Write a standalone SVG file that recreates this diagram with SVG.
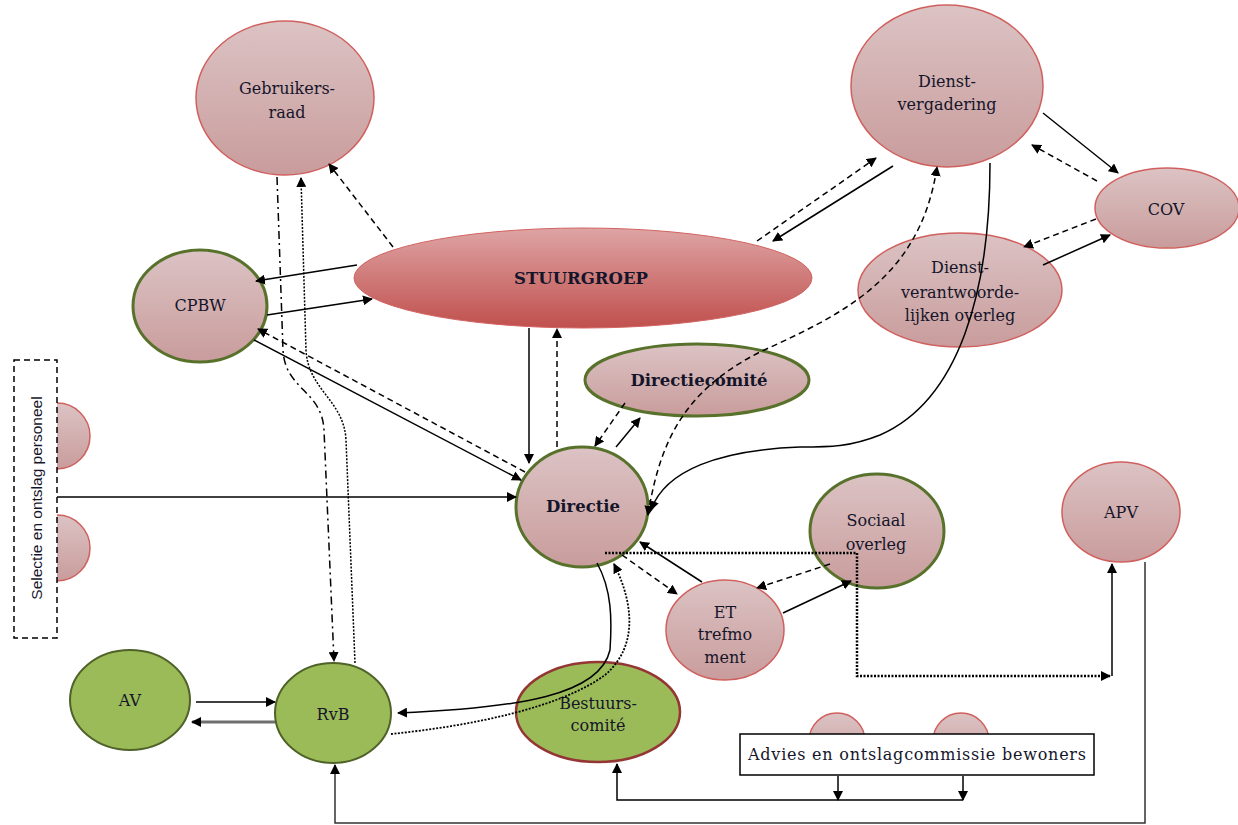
<svg xmlns="http://www.w3.org/2000/svg" width="1238" height="825" viewBox="0 0 1238 825">
<defs>
  <linearGradient id="gPink" x1="0" y1="0" x2="0" y2="1">
    <stop offset="0" stop-color="#dcc3c4"/>
    <stop offset="1" stop-color="#c99c9c"/>
  </linearGradient>
  <linearGradient id="gRed" x1="0" y1="0" x2="0" y2="1">
    <stop offset="0" stop-color="#dea4a4"/>
    <stop offset="1" stop-color="#c0504d"/>
  </linearGradient>
  <marker id="ah" viewBox="0 0 10 10" refX="9" refY="5" markerWidth="10" markerHeight="10" markerUnits="userSpaceOnUse" orient="auto">
    <path d="M0,0 L10,5 L0,10 z" fill="#000"/>
  </marker>
  <marker id="as" viewBox="0 0 10 10" refX="1" refY="5" markerWidth="10" markerHeight="10" markerUnits="userSpaceOnUse" orient="auto">
    <path d="M10,0 L0,5 L10,10 z" fill="#000"/>
  </marker>
</defs>
<style>
  .pinkR { fill: url(#gPink); stroke: #d0605e; stroke-width: 1.5; }
  .pinkG { fill: url(#gPink); stroke: #58722c; stroke-width: 3; }
  .green { fill: #9bbb59; stroke: #4f6228; stroke-width: 2; }
  .t { font-family: "DejaVu Serif", "Liberation Serif", serif; font-size: 16px; fill: #15152a; text-anchor: middle; }
  .b { font-weight: bold; font-size: 16.5px; }
  .c { fill: none; stroke: #000; stroke-width: 1.5; }
  .d { stroke-dasharray: 6 4; }
  .dot { stroke-dasharray: 2 1.5; stroke-width: 2.5; }
  .dd { stroke-dasharray: 8 4 2 4; }
</style>
<rect width="1238" height="825" fill="#fff"/>

<g id="n-selectie-circles">
  <circle cx="57" cy="436" r="33" class="pinkR"/>
  <circle cx="57" cy="548" r="33" class="pinkR"/>
</g>
<g id="n-selectie">
  <rect x="14" y="360" width="43" height="278" fill="#fff" stroke="#000" stroke-width="1.5" stroke-dasharray="6 4"/>
  <text class="t" transform="translate(42,498) rotate(-90)" style="font-family:'Liberation Sans',sans-serif;font-size:15.5px">Selectie en ontslag personeel</text>
</g>

<g id="n-gebruikersraad">
  <ellipse cx="285" cy="98" rx="89" ry="77" class="pinkR"/>
  <text class="t" x="287" y="94">Gebruikers-</text>
  <text class="t" x="287" y="118">raad</text>
</g>
<g id="n-dienstvergadering">
  <ellipse cx="947" cy="86" rx="96" ry="81" class="pinkR"/>
  <text class="t" x="947" y="87">Dienst-</text>
  <text class="t" x="947" y="110">vergadering</text>
</g>
<g id="n-cov">
  <ellipse cx="1167" cy="208" rx="72" ry="40" class="pinkR"/>
  <text class="t" x="1166" y="215">COV</text>
</g>
<g id="n-dvo">
  <ellipse cx="960" cy="290" rx="102" ry="57" class="pinkR"/>
  <text class="t" x="960" y="273">Dienst-</text>
  <text class="t" x="960" y="298">verantwoorde-</text>
  <text class="t" x="960" y="321">lijken overleg</text>
</g>
<g id="n-stuurgroep">
  <ellipse cx="583" cy="278" rx="229" ry="50" fill="url(#gRed)" stroke="#d26462" stroke-width="1"/>
  <text class="t b" x="581" y="284">STUURGROEP</text>
</g>
<g id="n-cpbw">
  <ellipse cx="200" cy="306" rx="67" ry="56" class="pinkG"/>
  <text class="t" x="200" y="311">CPBW</text>
</g>
<g id="n-directiecomite">
  <ellipse cx="697" cy="380" rx="112" ry="36" class="pinkG"/>
  <text class="t b" x="699" y="386">Directiecomité</text>
</g>
<g id="n-directie">
  <ellipse cx="582" cy="507" rx="66" ry="60" class="pinkG"/>
  <text class="t b" x="583" y="512">Directie</text>
</g>
<g id="n-sociaal">
  <ellipse cx="877" cy="531" rx="67" ry="57" class="pinkG"/>
  <text class="t" x="876" y="526">Sociaal</text>
  <text class="t" x="876" y="550">overleg</text>
</g>
<g id="n-et">
  <ellipse cx="725" cy="630" rx="59" ry="50" class="pinkR"/>
  <text class="t" x="725" y="618">ET</text>
  <text class="t" x="725" y="640">trefmo</text>
  <text class="t" x="725" y="663">ment</text>
</g>
<g id="n-apv">
  <ellipse cx="1121" cy="512" rx="59" ry="50" class="pinkR"/>
  <text class="t" x="1121" y="518">APV</text>
</g>
<g id="n-av">
  <ellipse cx="130" cy="700" rx="60" ry="50" class="green"/>
  <text class="t" x="130" y="706">AV</text>
</g>
<g id="n-rvb">
  <ellipse cx="333" cy="713" rx="58" ry="50" class="green"/>
  <text class="t" x="333" y="720">RvB</text>
</g>
<g id="n-bestuurscomite">
  <ellipse cx="598" cy="712" rx="82" ry="50" fill="#9bbb59" stroke="#943634" stroke-width="2.5"/>
  <text class="t" x="598" y="709">Bestuurs-</text>
  <text class="t" x="598" y="731">comité</text>
</g>
<g id="n-advies-circles">
  <circle cx="837" cy="741" r="28" class="pinkR"/>
  <circle cx="961" cy="741" r="28" class="pinkR"/>
</g>
<g id="n-advies">
  <rect x="740" y="734" width="354" height="41" fill="#fff" stroke="#000" stroke-width="1.5"/>
  <text class="t" x="917" y="760" textLength="338" lengthAdjust="spacing">Advies en ontslagcommissie bewoners</text>
</g>

<g id="connectors">
  <line x1="196" y1="702" x2="275" y2="702" class="c" marker-end="url(#ah)"/>
  <line x1="275" y1="722" x2="192" y2="722" class="c" style="stroke:#6f6f6f;stroke-width:3" marker-end="url(#ah)"/>
  <path d="M1145,562 L1145,823 L335,823 L335,765" class="c" style="stroke:#333" marker-end="url(#ah)"/>
  <line x1="838" y1="776" x2="838" y2="800" class="c" marker-end="url(#ah)"/>
  <line x1="963" y1="776" x2="963" y2="800" class="c" marker-end="url(#ah)"/>
  <path d="M963,800 L617,800 L617,764" class="c" marker-end="url(#ah)"/>
  <path d="M605,553 L857,553 L857,676 L1110,676" class="c dot" marker-end="url(#ah)"/>
  <path d="M1112,676 L1112,564" class="c" marker-end="url(#ah)"/>
  <line x1="830" y1="564" x2="757" y2="588" class="c d" marker-end="url(#ah)"/>
  <line x1="783" y1="613" x2="851" y2="581" class="c" marker-end="url(#ah)"/>
  <line x1="702" y1="582" x2="640" y2="542" class="c" marker-end="url(#ah)"/>
  <line x1="622" y1="555" x2="677" y2="594" class="c d" marker-end="url(#ah)"/>
  <line x1="625" y1="403" x2="595" y2="446" class="c d" marker-end="url(#ah)"/>
  <line x1="616" y1="447" x2="640" y2="418" class="c" marker-end="url(#ah)"/>
  <line x1="529" y1="328" x2="529" y2="463" class="c" marker-end="url(#ah)"/>
  <line x1="557" y1="447" x2="557" y2="329" class="c d" marker-end="url(#ah)"/>
  <line x1="357" y1="265" x2="256" y2="281" class="c" marker-end="url(#ah)"/>
  <line x1="267" y1="315" x2="372" y2="299" class="c" marker-end="url(#ah)"/>
  <line x1="254" y1="340" x2="521" y2="480" class="c" marker-end="url(#ah)"/>
  <line x1="525" y1="472" x2="258" y2="329" class="c d" marker-end="url(#ah)"/>
  <line x1="57" y1="497" x2="516" y2="497" class="c" marker-end="url(#ah)"/>
  <line x1="393" y1="247" x2="329" y2="164" class="c d" marker-end="url(#ah)"/>
  <path d="M277,177 L283,350 C285,390 322,390 324,430 L334,661" class="c dd" marker-end="url(#ah)"/>
  <path d="M355,663 L346,440 C344,400 308,390 306,350 L301,178" class="c dot" style="stroke-width:1.5" marker-end="url(#ah)"/>
  <line x1="757" y1="241" x2="876" y2="158" class="c d" marker-end="url(#ah)"/>
  <line x1="893" y1="166" x2="773" y2="241" class="c" marker-end="url(#ah)"/>
  <line x1="1043" y1="113" x2="1118" y2="173" class="c" marker-end="url(#ah)"/>
  <line x1="1097" y1="181" x2="1032" y2="145" class="c d" marker-end="url(#ah)"/>
  <line x1="1096" y1="219" x2="1024" y2="247" class="c d" marker-end="url(#ah)"/>
  <line x1="1043" y1="265" x2="1110" y2="235" class="c" marker-end="url(#ah)"/>
  <path d="M648,515 C660,440 685,390 760,352 C840,315 920,280 937,167" class="c d" marker-start="url(#as)" marker-end="url(#ah)"/>
  <path d="M990,163 C990,290 960,400 880,435 C850,447 830,447 800,447 C720,450 665,470 651,510" class="c" marker-end="url(#ah)"/>
  <path d="M597,563 C612,590 612,620 610,650 C600,695 520,708 398,713" class="c" marker-end="url(#ah)"/>
  <path d="M391,734 C470,726 560,708 605,675 C640,645 632,600 614,564" class="c dot" style="stroke-width:1.8" marker-end="url(#ah)"/>
</g>
</svg>
